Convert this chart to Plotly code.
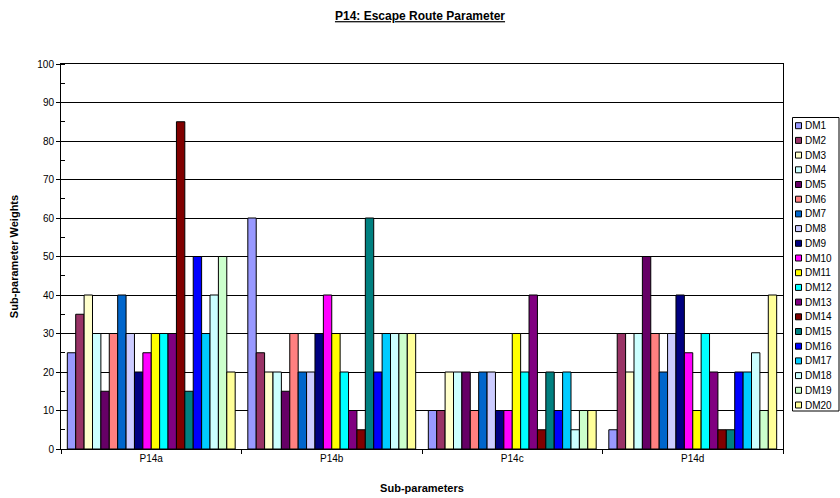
import plotly.graph_objects as go

categories = ["P14a", "P14b", "P14c", "P14d"]
series_names = [f"DM{i}" for i in range(1, 21)]

DM1 = [25, 60, 10, 5]
DM2 = [35, 25, 10, 30]
DM3 = [40, 20, 20, 20]
DM4 = [30, 20, 20, 30]
DM5 = [15, 15, 20, 50]
DM6 = [30, 30, 10, 30]
DM7 = [40, 20, 20, 20]
DM8 = [30, 20, 20, 30]
DM9 = [20, 30, 10, 40]
DM10 = [25, 40, 10, 25]
DM11 = [30, 30, 30, 10]
DM12 = [30, 20, 20, 30]
DM13 = [30, 10, 40, 20]
DM14 = [85, 5, 5, 5]
DM15 = [15, 60, 20, 5]
DM16 = [50, 20, 10, 20]
DM17 = [30, 30, 20, 20]
DM18 = [40, 30, 5, 25]
DM19 = [50, 30, 10, 10]
DM20 = [20, 30, 10, 40]

series_values = [DM1, DM2, DM3, DM4, DM5, DM6, DM7, DM8, DM9, DM10,
                 DM11, DM12, DM13, DM14, DM15, DM16, DM17, DM18, DM19, DM20]

colors = ["#9999FF", "#993366", "#FFFFCC", "#CCFFFF", "#660066", "#FF8080",
          "#0066CC", "#CCCCFF", "#000080", "#FF00FF", "#FFFF00", "#00FFFF",
          "#800080", "#800000", "#008080", "#0000FF", "#00CCFF", "#CCFFFF",
          "#CCFFCC", "#FFFF99"]

FONT = "Liberation Sans, Arial, sans-serif"

W, H = 840, 498
ML, MR, MT, MB = 61, 57, 64, 49
PW = W - ML - MR
PH = H - MT - MB


def px(x):
    return (x - ML) / PW


def py(y):
    return (H - MB - y) / PH


fig = go.Figure()
for name, vals, col in zip(series_names, series_values, colors):
    fig.add_trace(go.Bar(
        x=categories, y=vals, name=name, showlegend=False,
        marker=dict(color=col, line=dict(color="#000000", width=1)),
    ))

# Custom compact legend (Excel-style)
shapes = []
annotations = []
leg_left, leg_top, leg_right, leg_bottom = 792.5, 117.5, 839, 411
shapes.append(dict(type="rect", xref="paper", yref="paper",
                   x0=px(leg_left), x1=px(leg_right), y0=py(leg_bottom), y1=py(leg_top),
                   line=dict(color="#000000", width=1), fillcolor="white", layer="above"))
first_y, step = 125.7, 14.7
for i, (name, col) in enumerate(zip(series_names, colors)):
    cy = first_y + i * step
    shapes.append(dict(type="rect", xref="paper", yref="paper",
                       x0=px(795.5), x1=px(801.5), y0=py(cy + 3), y1=py(cy - 3),
                       line=dict(color="#000000", width=1), fillcolor=col, layer="above"))
    annotations.append(dict(text=name, xref="paper", yref="paper",
                            x=px(802.5), y=py(cy), xanchor="left", yanchor="middle",
                            showarrow=False, font=dict(family=FONT, size=10, color="#000000")))

fig.update_layout(
    width=W, height=H,
    barmode="group", bargap=0.07, bargroupgap=0,
    plot_bgcolor="white", paper_bgcolor="white",
    margin=dict(l=ML, r=MR, t=MT, b=MB, autoexpand=False),
    font=dict(family=FONT, size=10, color="#000000"),
    title=dict(text="<b><u>P14: Escape Route Parameter</u></b>",
               x=0.5, xanchor="center", y=0.968, yanchor="middle",
               font=dict(family=FONT, size=12, color="#000000")),
    showlegend=False,
    shapes=shapes,
    annotations=annotations,
)

fig.update_xaxes(
    automargin=False,
    showline=True, linecolor="#000000", linewidth=1, mirror=True,
    ticks="outside", tickson="boundaries", ticklen=4, tickcolor="#000000",
    showgrid=False,
    title=dict(text="<b>Sub-parameters</b>", standoff=21,
               font=dict(family=FONT, size=11)),
    tickfont=dict(family=FONT, size=10),
)
fig.update_yaxes(
    automargin=False,
    range=[0, 100], dtick=10,
    showline=True, linecolor="#000000", linewidth=1, mirror=True,
    ticks="outside", ticklen=4, tickcolor="#000000",
    showgrid=True, gridcolor="#000000", gridwidth=1,
    zeroline=False,
    minor=dict(dtick=5, ticks="inside", ticklen=4, tickcolor="#000000", showgrid=False),
    title=dict(text="<b>Sub-parameter Weights</b>", standoff=16,
               font=dict(family=FONT, size=11)),
    tickfont=dict(family=FONT, size=10),
)

fig.write_html("out.html",
               config={"displayModeBar": False},
               post_script="document.body.style.margin='0';document.body.style.overflow='hidden';")
